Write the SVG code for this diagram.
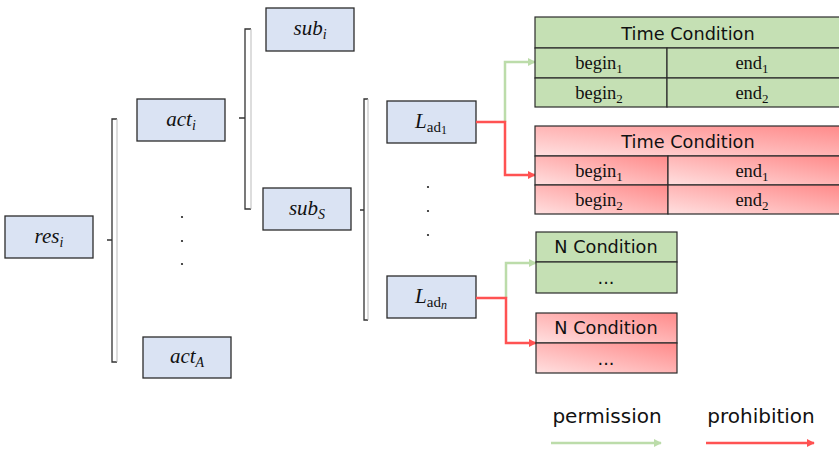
<svg xmlns="http://www.w3.org/2000/svg" width="839" height="450" viewBox="0 0 839 450">
<style>
.box{fill:#dae3f3;stroke:#2b2b2b;stroke-width:1.3}
.math{font-family:"Liberation Serif","DejaVu Serif",serif;font-style:italic;font-size:21px;fill:#111;text-anchor:middle}
.up{font-style:normal}
.cellG{fill:#c5e0b4;stroke:#2b2b2b;stroke-width:1.2}
.cellR{fill:url(#rg);stroke:#2b2b2b;stroke-width:1.2}
.hdr{font-family:"DejaVu Sans","Verdana",sans-serif;font-size:17.7px;fill:#111;text-anchor:middle}
.cell{font-family:"Liberation Serif","DejaVu Serif",serif;font-size:18.5px;fill:#111;text-anchor:middle}
.brk{fill:none;stroke:#333;stroke-width:1.3}
.brkl{fill:none;stroke:#bbb;stroke-width:1}
.dot{fill:#222}
.g{fill:none;stroke:#bcdcaa;stroke-width:2.5;marker-end:url(#ag)}
.r{fill:none;stroke:#ff5252;stroke-width:2.5;marker-end:url(#ar)}
.leg{font-family:"DejaVu Sans","Verdana",sans-serif;font-size:20px;fill:#111;text-anchor:middle}
</style>
<defs>
<linearGradient id="rg" x1="0" y1="1" x2="1" y2="0">
<stop offset="0" stop-color="#ffe0e0"/>
<stop offset="1" stop-color="#ff8a8a"/>
</linearGradient>
<marker id="ag" viewBox="0 0 10 10" refX="9" refY="5" markerWidth="3.4" markerHeight="3.2" orient="auto">
<path d="M0,0 L10,5 L0,10 z" fill="#bcdcaa"/>
</marker>
<marker id="ar" viewBox="0 0 10 10" refX="9" refY="5" markerWidth="3.4" markerHeight="3.2" orient="auto">
<path d="M0,0 L10,5 L0,10 z" fill="#ff5252"/>
</marker>
</defs>

<g id="brackets">
<path class="brk" d="M117,119 H112 V362 H117 M112,240 H107"/>
<path class="brkl" d="M117,119 V362"/>
<path class="brk" d="M251,29 H245 V209 H251 M245,118 H239"/>
<path class="brkl" d="M251,29 V209"/>
<path class="brk" d="M368,99 H364 V320 H368 M364,210 H360"/>
<path class="brkl" d="M368,99 V320"/>
</g>

<g id="dots">
<circle class="dot" cx="182" cy="217" r="1.1"/>
<circle class="dot" cx="182" cy="241" r="1.1"/>
<circle class="dot" cx="182" cy="264" r="1.1"/>
<circle class="dot" cx="428" cy="187" r="1.1"/>
<circle class="dot" cx="428" cy="211" r="1.1"/>
<circle class="dot" cx="428" cy="235" r="1.1"/>
</g>

<g id="res_i">
<rect class="box" x="5" y="216" width="88" height="42"/>
<text class="math" x="49" y="243">res<tspan font-size="14" dy="4">i</tspan></text>
</g>
<g id="act_i">
<rect class="box" x="137" y="99" width="88" height="42"/>
<text class="math" x="181" y="126">act<tspan font-size="14" dy="4">i</tspan></text>
</g>
<g id="act_A">
<rect class="box" x="143" y="337" width="88" height="41"/>
<text class="math" x="187" y="363">act<tspan font-size="14" dy="4">A</tspan></text>
</g>
<g id="sub_i">
<rect class="box" x="266" y="8" width="88" height="43"/>
<text class="math" x="310" y="35">sub<tspan font-size="14" dy="4">i</tspan></text>
</g>
<g id="sub_S">
<rect class="box" x="263" y="188" width="88" height="42"/>
<text class="math" x="307" y="215">sub<tspan font-size="14" dy="4">S</tspan></text>
</g>
<g id="L_ad1">
<rect class="box" x="387" y="101" width="89" height="42"/>
<text class="math" x="431" y="128">L<tspan class="up" font-size="15" dy="4">ad</tspan><tspan class="up" font-size="12" dy="2">1</tspan></text>
</g>
<g id="L_adn">
<rect class="box" x="387" y="276" width="89" height="42"/>
<text class="math" x="431" y="303">L<tspan class="up" font-size="15" dy="4">ad</tspan><tspan font-size="12" dy="2">n</tspan></text>
</g>

<g id="connectors">
<path class="g" d="M505,122 V62 H535"/>
<path class="r" d="M476,122 H505 V175 H535"/>
<path class="g" d="M506,298 V263 H536"/>
<path class="r" d="M476,298 H506 V343 H536"/>
</g>

<g id="time_green">
<rect class="cellG" x="535" y="17" width="306" height="31"/>
<rect class="cellG" x="535" y="48" width="132" height="30"/>
<rect class="cellG" x="667" y="48" width="174" height="30"/>
<rect class="cellG" x="535" y="78" width="132" height="29"/>
<rect class="cellG" x="667" y="78" width="174" height="29"/>
<text class="hdr" x="688" y="40">Time Condition</text>
<text class="cell" x="599" y="69">begin<tspan font-size="13" dy="4">1</tspan></text>
<text class="cell" x="752" y="69">end<tspan font-size="13" dy="4">1</tspan></text>
<text class="cell" x="599" y="99">begin<tspan font-size="13" dy="4">2</tspan></text>
<text class="cell" x="752" y="99">end<tspan font-size="13" dy="4">2</tspan></text>
</g>

<g id="time_red">
<rect class="cellR" x="535" y="126" width="306" height="30"/>
<rect class="cellR" x="535" y="156" width="133" height="29"/>
<rect class="cellR" x="668" y="156" width="173" height="29"/>
<rect class="cellR" x="535" y="185" width="133" height="29"/>
<rect class="cellR" x="668" y="185" width="173" height="29"/>
<text class="hdr" x="688" y="148">Time Condition</text>
<text class="cell" x="599" y="177">begin<tspan font-size="13" dy="4">1</tspan></text>
<text class="cell" x="752" y="177">end<tspan font-size="13" dy="4">1</tspan></text>
<text class="cell" x="599" y="206">begin<tspan font-size="13" dy="4">2</tspan></text>
<text class="cell" x="752" y="206">end<tspan font-size="13" dy="4">2</tspan></text>
</g>

<g id="n_green">
<rect class="cellG" x="536" y="232" width="141" height="30"/>
<rect class="cellG" x="536" y="262" width="141" height="31"/>
<text class="hdr" x="606" y="253">N Condition</text>
<text class="hdr" x="606" y="284">...</text>
</g>

<g id="n_red">
<rect class="cellR" x="536" y="313" width="141" height="30"/>
<rect class="cellR" x="536" y="343" width="141" height="30"/>
<text class="hdr" x="606" y="334">N Condition</text>
<text class="hdr" x="606" y="365">...</text>
</g>

<g id="legend">
<text class="leg" x="607" y="423">permission</text>
<text class="leg" x="761" y="423">prohibition</text>
<path class="g" d="M551,443 H661"/>
<path class="r" d="M706,443 H814"/>
</g>
</svg>
